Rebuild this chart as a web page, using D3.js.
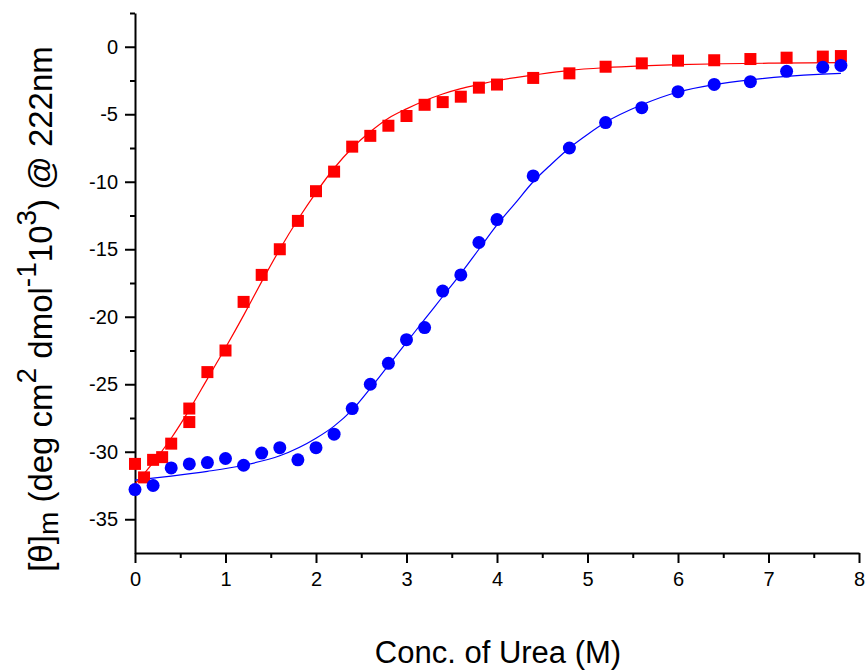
<!DOCTYPE html>
<html>
<head>
<meta charset="utf-8">
<script src="https://cdn.jsdelivr.net/npm/d3@7"></script>
<style>
  body { margin: 0; background: #fff; }
  svg { display: block; font-family: Arial, "Liberation Sans", sans-serif; }
</style>
</head>
<body>
<svg id="chart" width="866" height="671"></svg>
<script>
// measured points, urea (M) vs ellipticity
var ureaRed = [0, 0.1, 0.2, 0.3, 0.4, 0.6, 0.6, 0.8, 1.0, 1.2, 1.4, 1.6, 1.8, 2.0, 2.2, 2.4, 2.6, 2.8,
	3.0, 3.2, 3.4, 3.6, 3.8, 4.0, 4.4, 4.8, 5.2, 5.6, 6.0, 6.4, 6.8, 7.2, 7.6, 7.8];
var thetaRed = [-30.9, -31.9, -30.6, -30.4, -29.4, -26.8, -27.8, -24.1, -22.5, -18.9, -16.9, -15.0, -12.9,
	-10.7, -9.25, -7.4, -6.6, -5.85, -5.13, -4.3, -4.1, -3.7, -3.03, -2.8, -2.31, -1.97, -1.48, -1.23,
	-1.03, -1.0, -0.91, -0.81, -0.73, -0.69];

var ureaBlue = [0, 0.2, 0.4, 0.6, 0.8, 1.0, 1.2, 1.4, 1.6, 1.8, 2.0, 2.2, 2.4, 2.6, 2.8, 3.0, 3.2, 3.4,
	3.6, 3.8, 4.0, 4.4, 4.8, 5.2, 5.6, 6.0, 6.4, 6.8, 7.2, 7.6, 7.8];
var thetaBlue = [-32.8, -32.5, -31.2, -30.9, -30.8, -30.5, -31.0, -30.1, -29.7, -30.6, -29.7, -28.7, -26.8,
	-25.0, -23.45, -21.7, -20.8, -18.1, -16.9, -14.5, -12.8, -9.57, -7.5, -5.62, -4.51, -3.33, -2.79,
	-2.59, -1.82, -1.52, -1.38];

// fitted unfolding curves
var fitRedX = [0, 0.2, 0.4, 0.6, 0.8, 1.0, 1.2, 1.4, 1.6, 1.8, 2.0, 2.2, 2.4, 2.6, 2.8, 3.0, 3.2, 3.4,
	3.6, 3.8, 4.0, 4.4, 4.8, 5.2, 5.6, 6.0, 6.5, 7.0, 7.8];
var fitRedY = [-32.4, -30.8, -29.0, -26.9, -24.6, -22.3, -19.9, -17.4, -15.0, -12.8, -10.8, -9.0, -7.5,
	-6.3, -5.3, -4.6, -4.0, -3.5, -3.1, -2.8, -2.5, -2.1, -1.75, -1.55, -1.42, -1.33, -1.26, -1.22, -1.18];

var fitBlueX = [0, 0.4, 0.8, 1.2, 1.6, 2.0, 2.2, 2.4, 2.6, 2.8, 3.0, 3.2, 3.4, 3.6, 3.8, 4.0, 4.2, 4.4,
	4.6, 4.8, 5.0, 5.2, 5.6, 6.0, 6.4, 6.8, 7.2, 7.6, 7.8];
var fitBlueY = [-32.1, -31.8, -31.45, -31.0, -30.3, -29.0, -28.1, -26.9, -25.3, -23.6, -21.9, -20.2, -18.5,
	-16.8, -15.0, -13.2, -11.6, -10.0, -8.7, -7.5, -6.5, -5.6, -4.3, -3.35, -2.8, -2.45, -2.2, -2.03, -1.97];

var xTicks = [0, 1, 2, 3, 4, 5, 6, 7, 8];
var xMinor = [0.5, 1.5, 2.5, 3.5, 4.5, 5.5, 6.5, 7.5];
var yTicks = [-35, -30, -25, -20, -15, -10, -5, 0];
var yMinor = [-32.5, -27.5, -22.5, -17.5, -12.5, -7.5, -2.5, 2.5];

function renderChart() {
	var svg = d3.select('#chart');
	var plot = {left: 135, right: 859, top: 13, bottom: 553};

	var x = d3.scaleLinear().domain([0, 8]).range([plot.left, plot.right]);
	var y = d3.scaleLinear().domain([-37.5, 2.5]).range([plot.bottom, plot.top]);

	svg.append('rect').attr('width', 866).attr('height', 671).style('fill', '#fff');

	// axes: major ticks with labels, then short minor ticks
	var plain = function(d) { return String(d); };
	svg.append('g').attr('transform', 'translate(0,' + plot.bottom + ')')
		.call(d3.axisBottom(x).tickValues(xTicks).tickSize(10).tickSizeOuter(0).tickPadding(9).tickFormat(plain));
	svg.append('g').attr('transform', 'translate(0,' + plot.bottom + ')')
		.call(d3.axisBottom(x).tickValues(xMinor).tickSize(5).tickSizeOuter(0).tickFormat(''))
		.select('.domain').remove();
	svg.append('g').attr('transform', 'translate(' + plot.left + ',0)')
		.call(d3.axisLeft(y).tickValues(yTicks).tickSize(10).tickSizeOuter(0).tickPadding(7).tickFormat(plain));
	svg.append('g').attr('transform', 'translate(' + plot.left + ',0)')
		.call(d3.axisLeft(y).tickValues(yMinor).tickSize(5).tickSizeOuter(0).tickFormat(''))
		.select('.domain').remove();

	svg.selectAll('.domain').style('stroke', '#000').style('stroke-width', '2px');
	svg.selectAll('.tick line').style('stroke', '#000').style('stroke-width', '2px');
	svg.selectAll('.tick text').style('font-size', '20px').style('fill', '#000')
		.style('font-family', 'Arial, "Liberation Sans", sans-serif');

	// fit curves
	var line = d3.line()
		.x(function(d) { return x(d[0]); })
		.y(function(d) { return y(d[1]); })
		.curve(d3.curveMonotoneX);

	svg.append('path')
		.attr('d', line(d3.zip(fitRedX, fitRedY)))
		.style('fill', 'none')
		.style('stroke', '#ff0000')
		.style('stroke-width', '1.2px');
	svg.append('path')
		.attr('d', line(d3.zip(fitBlueX, fitBlueY)))
		.style('fill', 'none')
		.style('stroke', '#0000ff')
		.style('stroke-width', '1.2px');

	// markers
	var sq = 12;
	svg.append('g').selectAll('rect')
		.data(d3.zip(ureaRed, thetaRed))
		.join('rect')
		.attr('x', function(d) { return x(d[0]) - sq/2; })
		.attr('y', function(d) { return y(d[1]) - sq/2; })
		.attr('width', sq)
		.attr('height', sq)
		.style('fill', '#ff0000');

	svg.append('g').selectAll('circle')
		.data(d3.zip(ureaBlue, thetaBlue))
		.join('circle')
		.attr('cx', function(d) { return x(d[0]); })
		.attr('cy', function(d) { return y(d[1]); })
		.attr('r', 6.5)
		.style('fill', '#0000ff');

	// axis titles
	svg.append('text')
		.attr('x', 498)
		.attr('y', 663)
		.attr('text-anchor', 'middle')
		.style('font-size', '31px')
		.text('Conc. of Urea (M)');

	var yt = svg.append('text')
		.attr('transform', 'translate(52,309) rotate(-90)')
		.attr('text-anchor', 'middle')
		.style('font-size', '33px');
	var small = '28px';
	yt.append('tspan').text('[\u03b8]');
	yt.append('tspan').attr('dy', 6).style('font-size', small).text('m');
	yt.append('tspan').attr('dy', -6).text(' (deg cm');
	yt.append('tspan').attr('dy', -16).style('font-size', small).text('2');
	yt.append('tspan').attr('dy', 16).text(' dmol');
	yt.append('tspan').attr('dy', -16).style('font-size', small).text('-1');
	yt.append('tspan').attr('dy', 16).text('10');
	yt.append('tspan').attr('dy', -16).style('font-size', small).text('3');
	yt.append('tspan').attr('dy', 16).text(') @ 222nm');
}

renderChart();
</script>
</body>
</html>
